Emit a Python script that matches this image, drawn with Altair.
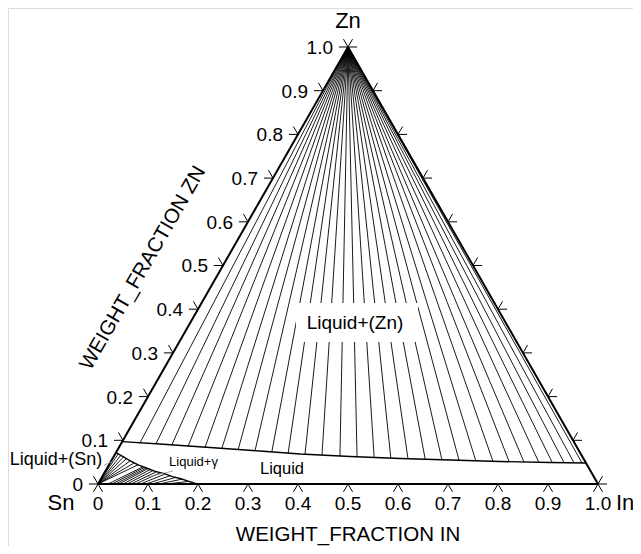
import altair as alt
import pandas as pd

# ---------------- data (ternary: In along bottom, Zn up, Sn = 1 - In - Zn) -------------
tick_values = [0.0, 0.1, 0.2, 0.3, 0.4, 0.5, 0.6, 0.7, 0.8, 0.9, 1.0]
tick_labels = ["0", "0.1", "0.2", "0.3", "0.4", "0.5", "0.6", "0.7", "0.8", "0.9", "1.0"]

# Liquid / Liquid+(Zn) boundary
liquidus_in = [0.0, 0.078, 0.182, 0.286, 0.370, 0.473, 0.575, 0.677, 0.778, 0.879, 0.952]
liquidus_zn = [0.097, 0.0915, 0.0835, 0.0755, 0.0686, 0.0629, 0.0584, 0.0549, 0.0515, 0.0492, 0.048]

# Liquid / Liquid+(Sn), Liquid+gamma boundary
sn_curve_in = [0.0, 0.02, 0.038, 0.06, 0.08, 0.10, 0.123, 0.14, 0.158, 0.175, 0.198]
sn_curve_zn = [0.072, 0.062, 0.053, 0.043, 0.036, 0.029, 0.023, 0.017, 0.0126, 0.007, 0.0]

# tie lines Liquid+(Zn): liquid end (other end at pure Zn)
zn_tie_in = [0.037, 0.070, 0.103, 0.137, 0.172, 0.207, 0.241, 0.276, 0.311, 0.345,
             0.380, 0.415, 0.452, 0.487, 0.522, 0.556, 0.591, 0.626, 0.660, 0.695,
             0.729, 0.764, 0.797, 0.827, 0.857, 0.884, 0.908, 0.928, 0.944]
zn_tie_zn = [0.0934, 0.0918, 0.0892, 0.0865, 0.0842, 0.0815, 0.0787, 0.0760, 0.0732, 0.0705,
             0.0680, 0.0659, 0.0638, 0.0622, 0.0606, 0.0593, 0.0579, 0.0568, 0.0556, 0.0542,
             0.0531, 0.0519, 0.0508, 0.0501, 0.0494, 0.0490, 0.0485, 0.0483, 0.0481]

# tie lines Liquid+(Sn): liquid end (other end at pure Sn)
sn_tie_in = [0.006, 0.013, 0.020, 0.028, 0.038, 0.048, 0.058]
sn_tie_zn = [0.069, 0.066, 0.062, 0.058, 0.053, 0.048, 0.044]

# tie lines Liquid+gamma: gamma end (Zn = 0) and liquid end
gam_tie_in0 = [0.020, 0.028, 0.035, 0.042, 0.050, 0.058, 0.066, 0.075, 0.085, 0.096, 0.108, 0.122, 0.138]
gam_tie_in1 = [0.070, 0.074, 0.078, 0.082, 0.088, 0.095, 0.103, 0.112, 0.123, 0.135, 0.148, 0.162, 0.178]
gam_tie_zn1 = [0.039, 0.038, 0.036, 0.035, 0.033, 0.031, 0.028, 0.026, 0.023, 0.019, 0.015, 0.011, 0.006]

region_labels = ["Liquid+(Zn)", "Liquid", "Liquid+\u03b3", "Liquid+(Sn)"]
corner_labels = ["Sn", "In", "Zn"]
axis_titles = ["WEIGHT_FRACTION IN", "WEIGHT_FRACTION ZN"]


def cx(i, z):
    return i + z / 2.0


# ---------------- tables -------------
segs = []
for (i0, z0, i1, z1) in [(0, 0, 1, 0), (0, 0, 0, 1), (1, 0, 0, 1)]:
    segs.append(dict(kind="edge", x=cx(i0, z0), y=z0, x2=cx(i1, z1), y2=z1))
for i, z in zip(zn_tie_in, zn_tie_zn):
    segs.append(dict(kind="tie", x=cx(i, z), y=z, x2=cx(0, 1), y2=1.0))
for i, z in zip(sn_tie_in, sn_tie_zn):
    segs.append(dict(kind="tie", x=cx(i, z), y=z, x2=0.0, y2=0.0))
for i0, i1, z1 in zip(gam_tie_in0, gam_tie_in1, gam_tie_zn1):
    segs.append(dict(kind="tie", x=i0, y=0.0, x2=cx(i1, z1), y2=z1))
seg_df = pd.DataFrame(segs)

curve_rows = []
for k, (i, z) in enumerate(zip(liquidus_in, liquidus_zn)):
    curve_rows.append(dict(curve="liq", o=k, x=cx(i, z), y=z))
for k, (i, z) in enumerate(zip(sn_curve_in, sn_curve_zn)):
    curve_rows.append(dict(curve="sn", o=k, x=cx(i, z), y=z))
curve_df = pd.DataFrame(curve_rows)

bottom_df = pd.DataFrame([dict(x=cx(t, 0), y=0.0, lab=l) for t, l in zip(tick_values, tick_labels)])
left_df = pd.DataFrame([dict(x=cx(0, t), y=t, lab=l) for t, l in zip(tick_values, tick_labels)])
right_df = pd.DataFrame([dict(x=cx(1 - t, t), y=t) for t in tick_values])

xs = alt.Scale(domain=[-0.18, 1.07], nice=False, zero=False)
ys = alt.Scale(domain=[-0.14188, 1.08924], nice=False, zero=False)
X = lambda f="x": alt.X(f + ":Q", scale=xs, axis=None)
Y = lambda f="y": alt.Y(f + ":Q", scale=ys, axis=None)

FONT = "Liberation Sans"

# white box behind the Liquid+(Zn) label
box_df = pd.DataFrame([dict(x=0.396, x2=0.640, y=0.325, y2=0.414)])

edges = alt.Chart(seg_df).transform_filter("datum.kind == 'edge'").mark_rule(
    color="black", strokeWidth=2).encode(x=X(), y=Y(), x2="x2:Q", y2="y2:Q")
ties = alt.Chart(seg_df).transform_filter("datum.kind == 'tie'").mark_rule(
    color="black", strokeWidth=0.9).encode(x=X(), y=Y(), x2="x2:Q", y2="y2:Q")
box = alt.Chart(box_df).mark_rect(color="white").encode(x=X(), y=Y(), x2="x2:Q", y2="y2:Q")
curves = alt.Chart(curve_df).mark_line(color="black", strokeWidth=1.4).encode(
    x=X(), y=Y(), detail="curve:N", order="o:Q")

tick_kw = dict(filled=False, color="black", strokeWidth=1, opacity=1, size=330)
bt = alt.Chart(bottom_df).mark_point(shape="M-0.5,0.866L0,0L0.5,0.866", **tick_kw).encode(x=X(), y=Y())
lt = alt.Chart(left_df).mark_point(shape="M-1,0L0,0L-0.5,-0.866", **tick_kw).encode(x=X(), y=Y())
rt = alt.Chart(right_df).mark_point(shape="M1,0L0,0L0.5,-0.866", **tick_kw).encode(x=X(), y=Y())

bl = alt.Chart(bottom_df).mark_text(font=FONT, fontSize=19, dy=20, baseline="middle", align="center").encode(
    x=X(), y=Y(), text="lab:N")
ll = alt.Chart(left_df).mark_text(font=FONT, fontSize=19, dx=-15, dy=1, baseline="middle", align="right").encode(
    x=X(), y=Y(), text="lab:N")

# corner labels
sn_lab = alt.Chart(pd.DataFrame([dict(x=0.0, y=0.0, t=corner_labels[0])])).mark_text(
    font=FONT, fontSize=22, dx=-37, dy=19, baseline="middle").encode(x=X(), y=Y(), text="t:N")
in_lab = alt.Chart(pd.DataFrame([dict(x=1.0, y=0.0, t=corner_labels[1])])).mark_text(
    font=FONT, fontSize=22, dx=18, dy=19, baseline="middle", align="left").encode(x=X(), y=Y(), text="t:N")
zn_lab = alt.Chart(pd.DataFrame([dict(x=0.5, y=1.0, t=corner_labels[2])])).mark_text(
    font=FONT, fontSize=22, dy=-26, baseline="middle").encode(x=X(), y=Y(), text="t:N")

xt = alt.Chart(pd.DataFrame([dict(x=0.5, y=0.0, t=axis_titles[0])])).mark_text(
    font=FONT, fontSize=20.5, dy=51, baseline="middle").encode(x=X(), y=Y(), text="t:N")
yt = alt.Chart(pd.DataFrame([dict(x=0.09, y=0.494, t=axis_titles[1])])).mark_text(
    font=FONT, fontSize=20.5, angle=300, baseline="middle").encode(x=X(), y=Y(), text="t:N")

reg_df = pd.DataFrame([
    dict(x=0.514, y=0.368, t=region_labels[0], fs=19),
    dict(x=0.368, y=0.0343, t=region_labels[1], fs=16.5),
    dict(x=0.191, y=0.050, t=region_labels[2], fs=13),
    dict(x=-0.084, y=0.0549, t=region_labels[3], fs=18),
])
reg = alt.Chart(reg_df).mark_text(font=FONT, baseline="middle").encode(
    x=X(), y=Y(), text="t:N", size=alt.Size("fs:Q", scale=None, legend=None))

lead_df = pd.DataFrame([
    dict(x=0.15, y=0.0297, x2=0.10, y2=0.016),
    dict(x=0.012, y=0.043, x2=0.030, y2=0.052),
])
leads = alt.Chart(lead_df).mark_rule(color="#999999", strokeWidth=0.8).encode(
    x=X(), y=Y(), x2="x2:Q", y2="y2:Q")

chart = alt.layer(
    ties, box, curves, edges, leads, bt, lt, rt, bl, ll, sn_lab, in_lab, zn_lab, xt, yt, reg
).properties(
    width=625, height=538, autosize=alt.AutoSizeParams(type="none"), padding=0
).configure_view(stroke=None).configure(background="white")

chart.save("out.html", embed_options={"renderer": "svg", "actions": False})
